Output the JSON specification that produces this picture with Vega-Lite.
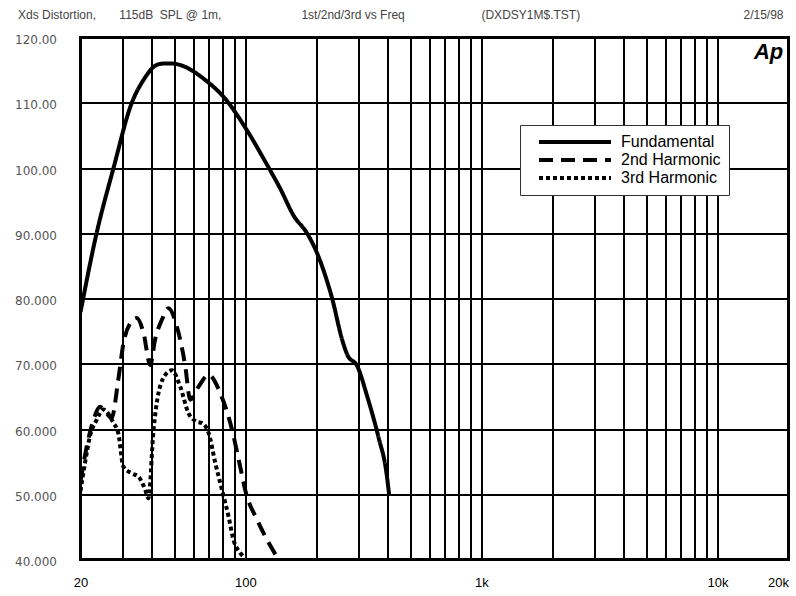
{
  "$schema": "https://vega.github.io/schema/vega-lite/v6.json",
  "width": 708,
  "height": 522,
  "autosize": {"type": "none"},
  "padding": {"left": 80.5, "top": 37.5, "right": 7.5, "bottom": 36.5},
  "background": "white",
  "title": {
    "text": "Xds Distortion,\u00a0\u00a0\u00a0\u00a0\u00a0\u00a0\u00a0115dB\u00a0\u00a0SPL\u00a0@\u00a01m,\u00a0\u00a0\u00a0\u00a0\u00a0\u00a0\u00a0\u00a0\u00a0\u00a0\u00a0\u00a0\u00a0\u00a0\u00a0\u00a0\u00a0\u00a0\u00a0\u00a0\u00a0\u00a0\u00a0\u00a01st/2nd/3rd\u00a0vs\u00a0Freq\u00a0\u00a0\u00a0\u00a0\u00a0\u00a0\u00a0\u00a0\u00a0\u00a0\u00a0\u00a0\u00a0\u00a0\u00a0\u00a0\u00a0\u00a0\u00a0\u00a0\u00a0\u00a0\u00a0(DXDSY1M$.TST)\u00a0\u00a0\u00a0\u00a0\u00a0\u00a0\u00a0\u00a0\u00a0\u00a0\u00a0\u00a0\u00a0\u00a0\u00a0\u00a0\u00a0\u00a0\u00a0\u00a0\u00a0\u00a0\u00a0\u00a0\u00a0\u00a0\u00a0\u00a0\u00a0\u00a0\u00a0\u00a0\u00a0\u00a0\u00a0\u00a0\u00a0\u00a0\u00a0\u00a0\u00a0\u00a0\u00a0\u00a0\u00a0\u00a0\u00a0\u00a0\u00a02/15/98",
    "anchor": "start",
    "frame": "group",
    "dx": -62.5,
    "offset": 12,
    "font": "Liberation Sans",
    "fontSize": 12,
    "fontWeight": "normal",
    "color": "#444"
  },
  "config": {
    "view": {"stroke": "black", "strokeWidth": 3}
  },
  "datasets": {
    "curves": [
      {"series": "Fundamental", "f": 20, "v": 77.9},
      {"series": "Fundamental", "f": 23.4, "v": 90.0},
      {"series": "Fundamental", "f": 27.6, "v": 100.0},
      {"series": "Fundamental", "f": 33.0, "v": 110.0},
      {"series": "Fundamental", "f": 37.0, "v": 113.5},
      {"series": "Fundamental", "f": 42.1, "v": 115.8},
      {"series": "Fundamental", "f": 44.9, "v": 116.0},
      {"series": "Fundamental", "f": 49.0, "v": 116.0},
      {"series": "Fundamental", "f": 54.7, "v": 115.6},
      {"series": "Fundamental", "f": 66.4, "v": 113.7},
      {"series": "Fundamental", "f": 82.1, "v": 110.6},
      {"series": "Fundamental", "f": 101.4, "v": 105.8},
      {"series": "Fundamental", "f": 123.4, "v": 100.5},
      {"series": "Fundamental", "f": 140.6, "v": 96.8},
      {"series": "Fundamental", "f": 160.0, "v": 92.7},
      {"series": "Fundamental", "f": 182.4, "v": 90.0},
      {"series": "Fundamental", "f": 201.4, "v": 86.9},
      {"series": "Fundamental", "f": 218.4, "v": 83.4},
      {"series": "Fundamental", "f": 233.0, "v": 80.0},
      {"series": "Fundamental", "f": 256.8, "v": 73.7},
      {"series": "Fundamental", "f": 270.0, "v": 71.4},
      {"series": "Fundamental", "f": 298.0, "v": 69.6},
      {"series": "Fundamental", "f": 328.0, "v": 65.0},
      {"series": "Fundamental", "f": 367.0, "v": 58.6},
      {"series": "Fundamental", "f": 395.0, "v": 53.5},
      {"series": "Fundamental", "f": 406.0, "v": 50.0},
      {"series": "2nd Harmonic", "f": 20, "v": 52.0},
      {"series": "2nd Harmonic", "f": 21.25, "v": 57.3},
      {"series": "2nd Harmonic", "f": 22.7, "v": 61.4},
      {"series": "2nd Harmonic", "f": 24.2, "v": 63.4},
      {"series": "2nd Harmonic", "f": 25.8, "v": 62.4},
      {"series": "2nd Harmonic", "f": 27.1, "v": 61.7},
      {"series": "2nd Harmonic", "f": 28.9, "v": 67.5},
      {"series": "2nd Harmonic", "f": 30.4, "v": 73.1},
      {"series": "2nd Harmonic", "f": 32.5, "v": 76.2},
      {"series": "2nd Harmonic", "f": 34.6, "v": 77.0},
      {"series": "2nd Harmonic", "f": 37.0, "v": 74.7},
      {"series": "2nd Harmonic", "f": 39.5, "v": 69.8},
      {"series": "2nd Harmonic", "f": 41.4, "v": 73.7},
      {"series": "2nd Harmonic", "f": 44.2, "v": 76.7},
      {"series": "2nd Harmonic", "f": 47.2, "v": 78.5},
      {"series": "2nd Harmonic", "f": 51.2, "v": 75.7},
      {"series": "2nd Harmonic", "f": 55.6, "v": 69.6},
      {"series": "2nd Harmonic", "f": 58.3, "v": 64.5},
      {"series": "2nd Harmonic", "f": 63.3, "v": 66.5},
      {"series": "2nd Harmonic", "f": 69.8, "v": 68.3},
      {"series": "2nd Harmonic", "f": 78.2, "v": 65.5},
      {"series": "2nd Harmonic", "f": 87.7, "v": 59.9},
      {"series": "2nd Harmonic", "f": 94.0, "v": 55.0},
      {"series": "2nd Harmonic", "f": 100.5, "v": 50.2},
      {"series": "2nd Harmonic", "f": 112.0, "v": 46.1},
      {"series": "2nd Harmonic", "f": 123.5, "v": 43.0},
      {"series": "2nd Harmonic", "f": 136.0, "v": 40.4},
      {"series": "3rd Harmonic", "f": 20, "v": 50.5},
      {"series": "3rd Harmonic", "f": 20.9, "v": 54.8},
      {"series": "3rd Harmonic", "f": 21.9, "v": 58.8},
      {"series": "3rd Harmonic", "f": 23.4, "v": 61.4},
      {"series": "3rd Harmonic", "f": 25.0, "v": 63.0},
      {"series": "3rd Harmonic", "f": 27.6, "v": 60.9},
      {"series": "3rd Harmonic", "f": 28.9, "v": 59.4},
      {"series": "3rd Harmonic", "f": 30.4, "v": 54.2},
      {"series": "3rd Harmonic", "f": 33.0, "v": 53.2},
      {"series": "3rd Harmonic", "f": 35.2, "v": 52.7},
      {"series": "3rd Harmonic", "f": 37.6, "v": 50.7},
      {"series": "3rd Harmonic", "f": 38.8, "v": 49.4},
      {"series": "3rd Harmonic", "f": 40.8, "v": 59.9},
      {"series": "3rd Harmonic", "f": 42.8, "v": 65.5},
      {"series": "3rd Harmonic", "f": 46.5, "v": 68.6},
      {"series": "3rd Harmonic", "f": 48.8, "v": 69.0},
      {"series": "3rd Harmonic", "f": 52.9, "v": 66.5},
      {"series": "3rd Harmonic", "f": 57.4, "v": 62.4},
      {"series": "3rd Harmonic", "f": 62.3, "v": 61.1},
      {"series": "3rd Harmonic", "f": 65.4, "v": 60.9},
      {"series": "3rd Harmonic", "f": 69.8, "v": 59.4},
      {"series": "3rd Harmonic", "f": 74.5, "v": 54.8},
      {"series": "3rd Harmonic", "f": 79.5, "v": 50.7},
      {"series": "3rd Harmonic", "f": 84.8, "v": 46.6},
      {"series": "3rd Harmonic", "f": 89.0, "v": 43.0},
      {"series": "3rd Harmonic", "f": 95.1, "v": 41.0},
      {"series": "3rd Harmonic", "f": 99.9, "v": 40.2}
    ],
    "logo": [{"label": "Ap"}]
  },
  "layer": [
    {
      "data": {"name": "curves"},
      "mark": {"type": "line", "color": "black", "strokeWidth": 4, "interpolate": "monotone", "strokeCap": "butt", "clip": true},
      "encoding": {
        "x": {
          "field": "f",
          "type": "quantitative",
          "scale": {"type": "log", "domain": [20, 20000], "nice": false},
          "axis": {
            "values": [20, 30, 40, 50, 60, 70, 80, 90, 100, 200, 300, 400, 500, 600, 700, 800, 900, 1000, 2000, 3000, 4000, 5000, 6000, 7000, 8000, 9000, 10000, 20000],
            "labelExpr": "datum.value == 20 ? '20' : datum.value == 100 ? '100' : datum.value == 1000 ? '1k' : datum.value == 10000 ? '10k' : datum.value == 20000 ? '20k' : ''",
            "labelAlign": {"expr": "datum.value == 20000 ? 'right' : 'center'"},
            "grid": true,
            "gridColor": "black",
            "gridWidth": 2,
            "gridOpacity": 1,
            "ticks": false,
            "domain": false,
            "labelFlush": false,
            "labelOverlap": false,
            "labelBound": false,
            "labelFont": "Liberation Sans",
            "labelFontSize": 13,
            "labelColor": "black",
            "labelPadding": 17,
            "title": null
          }
        },
        "y": {
          "field": "v",
          "type": "quantitative",
          "scale": {"domain": [40, 120], "nice": false, "zero": false},
          "axis": {
            "values": [40, 50, 60, 70, 80, 90, 100, 110, 120],
            "labelExpr": "datum.value >= 100 ? format(datum.value, '.2f') : format(datum.value, '.3f')",
            "grid": true,
            "gridColor": "black",
            "gridWidth": 2,
            "gridOpacity": 1,
            "ticks": false,
            "domain": false,
            "labelFlush": false,
            "labelOverlap": false,
            "labelFont": "DejaVu Sans",
            "labelFontSize": 12,
            "labelColor": "#555",
            "labelPadding": 24,
            "labelOffset": 2,
            "title": null
          }
        },
        "strokeDash": {
          "field": "series",
          "type": "nominal",
          "scale": {"domain": ["Fundamental", "2nd Harmonic", "3rd Harmonic"], "range": [[1, 0], [14, 8], [4, 3]]},
          "legend": {
            "orient": "none",
            "legendX": 439.5,
            "legendY": 87.5,
            "title": null,
            "symbolType": "stroke",
            "symbolSize": 5184,
            "symbolStrokeWidth": 4,
            "symbolStrokeColor": "black",
            "clipHeight": 18,
            "padding": 8,
            "rowPadding": 0,
            "symbolOffset": 9,
            "labelOffset": 8,
            "labelFont": "Liberation Sans",
            "labelFontSize": 16,
            "labelColor": "black",
            "strokeColor": "#333",
            "fillColor": "white",
            "labelExpr": "datum.label + '\u2003\u2003\u2003'"
          }
        }
      }
    },
    {
      "data": {"name": "logo"},
      "mark": {"type": "text", "align": "right", "baseline": "middle", "font": "Liberation Sans", "fontSize": 22, "fontWeight": "bold", "fontStyle": "italic", "color": "black"},
      "encoding": {
        "x": {"datum": 19000},
        "y": {"datum": 117.8},
        "text": {"field": "label"}
      }
    }
  ]
}
